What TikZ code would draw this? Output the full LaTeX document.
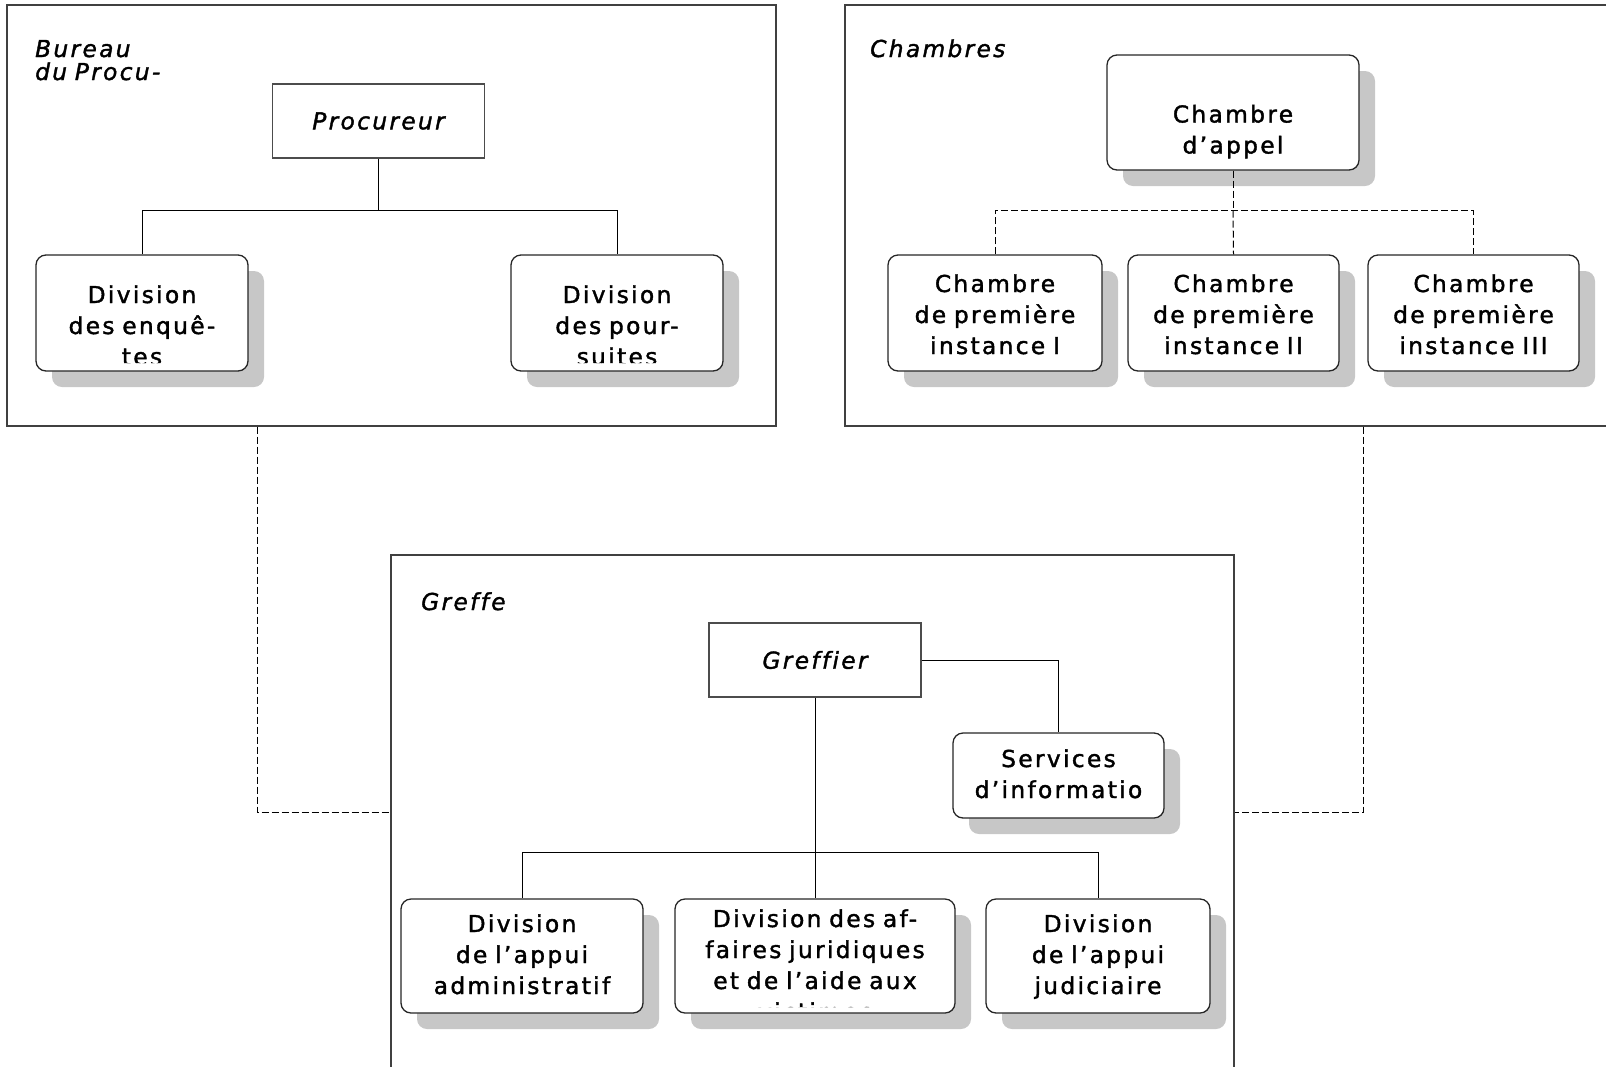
\documentclass[tikz,border=0pt]{standalone}
\usepackage{fontspec}
\setmainfont{DejaVu Sans}[LetterSpace=10, FakeBold=1.6, Ligatures=NoCommon]
\usepackage{tikz}
\usetikzlibrary{positioning,shadows,calc}

\begin{document}
\begin{tikzpicture}[x=1pt,y=-1pt,
        cadre/.style={draw=black!75, line width=1.5pt, anchor=north west, inner sep=0pt},
        titre/.style={anchor=base west, inner sep=0pt, text width=6cm, align=left,
            font=\itshape\fontsize{23.3}{23}\selectfont},
        chef/.style={draw=black!70, line width=1.2pt, fill=white, minimum width=212pt,
            minimum height=74pt, inner sep=0pt, font=\itshape\fontsize{23.3}{31}\selectfont},
        unite/.style={draw=black!85, line width=1.3pt, fill=white, rounded corners=10pt,
            inner sep=0pt, drop shadow={shadow xshift=16pt, shadow yshift=-16pt,
            fill=black!22, opacity=1}},
        texte/.style={anchor=base, inner sep=0pt, text width=300pt, align=center,
            font=\fontsize{23.3}{31}\selectfont},
        lien/.style={line width=1pt},
        tirets/.style={line width=1pt, dash pattern=on 7pt off 3pt}
    ]
    \useasboundingbox (0,0) rectangle (1606,1066);
    \clip (0,0) rectangle (1606,1066);

    % les trois organes
    \node[cadre, minimum width=769pt, minimum height=421pt] (bureau) at (6,4) {};
    \node[cadre, minimum width=780pt, minimum height=421pt] (chambres) at (844,4) {};
    \node[cadre, minimum width=843pt, minimum height=540pt] (greffe) at (390,554) {};

    \node[titre] (lbureau) at (35,57) {Bureau\\du Procu-};
    \node[titre] (lchambres) at (870,57) {Chambres};
    \node[titre] (lgreffe) at (421,610) {Greffe};

    % Bureau du Procureur
    \node[chef] (proc) at (378.5,121) {Procureur};
    \node[unite, minimum width=212pt, minimum height=116pt, path picture={
        \clip (path picture bounding box.north west) rectangle ([yshift=8pt]path picture bounding box.south east);
        \node[texte] at ([yshift=-48pt]path picture bounding box.north) {Division\\des enquê-\\tes};}]
        (enq) at (142,313) {};
    \node[unite, minimum width=212pt, minimum height=116pt, path picture={
        \clip (path picture bounding box.north west) rectangle ([yshift=8pt]path picture bounding box.south east);
        \node[texte] at ([yshift=-48pt]path picture bounding box.north) {Division\\des pour-\\suites};}]
        (pours) at (617,313) {};
    \draw[lien] (proc.south) -- ++(0,52) coordinate (jproc);
    \draw[lien] (enq.north) |- (jproc) -| (pours.north);

    % Chambres
    \node[unite, minimum width=252pt, minimum height=115pt, path picture={
        \node[texte] at ([yshift=-67.5pt]path picture bounding box.north) {Chambre\\d’appel};}]
        (chapp) at (1233,112.5) {};
    \node[unite, minimum width=214pt, minimum height=116pt, path picture={
        \node[texte] at ([yshift=-37pt]path picture bounding box.north) {Chambre\\de première\\instance I};}]
        (ch1) at (995,313) {};
    \node[unite, minimum width=211pt, minimum height=116pt, path picture={
        \node[texte] at ([yshift=-37pt]path picture bounding box.north) {Chambre\\de première\\instance II};}]
        (ch2) at (1233.5,313) {};
    \node[unite, minimum width=211pt, minimum height=116pt, path picture={
        \node[texte] at ([yshift=-37pt]path picture bounding box.north) {Chambre\\de première\\instance III};}]
        (ch3) at (1473.5,313) {};
    \draw[tirets] (chapp.south) -- ++(0,40) coordinate (jch);
    \draw[tirets] (ch1.north) |- (jch) -| (ch3.north);
    \draw[tirets] (jch) -- (ch2.north);

    % Greffe
    \node[chef] (greffier) at (815,660) {Greffier};
    \node[unite, minimum width=211pt, minimum height=85pt, path picture={
        \node[texte] at ([yshift=-34pt]path picture bounding box.north) {Services\\d’informatio};}]
        (serv) at (1058.5,775.5) {};
    \node[unite, minimum width=242pt, minimum height=114pt, path picture={
        \node[texte] at ([yshift=-33pt]path picture bounding box.north) {Division\\de l’appui\\administratif};}]
        (adm) at (522,956) {};
    \node[unite, minimum width=280pt, minimum height=114pt, path picture={
        \clip (path picture bounding box.north west) rectangle ([yshift=6pt]path picture bounding box.south east);
        \node[texte] at ([yshift=-28pt]path picture bounding box.north) {Division des af-\\faires juridiques\\et de l’aide aux\\victimes};}]
        (jur) at (815,956) {};
    \node[unite, minimum width=224pt, minimum height=114pt, path picture={
        \node[texte] at ([yshift=-33pt]path picture bounding box.north) {Division\\de l’appui\\judiciaire};}]
        (jud) at (1098,956) {};
    \draw[lien] (greffier.east) -| (serv.north);
    \draw[lien] (greffier.south) -- ++(0,155) coordinate (jgr);
    \draw[lien] (adm.north) |- (jgr) -| (jud.north);
    \draw[lien] (jgr) -- (jur.north);

    % liaisons entre organes
    \draw[tirets] ([xshift=251pt]bureau.south west) |- ([yshift=-258pt]greffe.north west);
    \draw[tirets] ([xshift=519pt]chambres.south west) |- ([yshift=-258pt]greffe.north east);
\end{tikzpicture}
\end{document}
